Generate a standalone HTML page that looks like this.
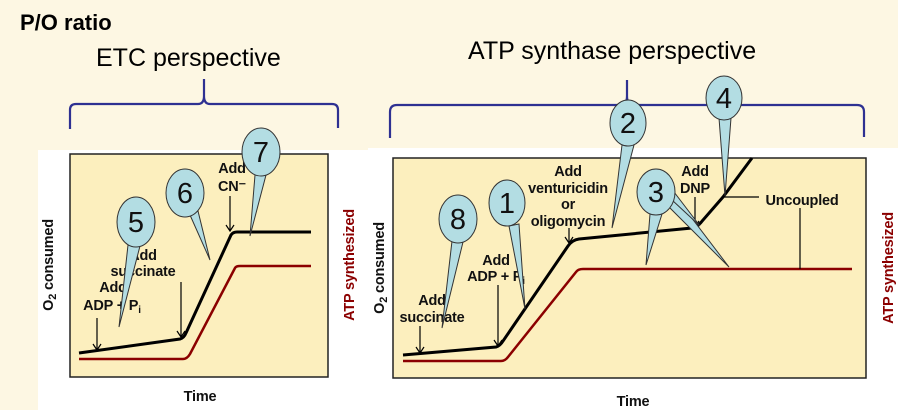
<!DOCTYPE html>
<html><head><meta charset="utf-8"><style>
body{margin:0;background:#fdf7e3;}
svg{display:block;}
text{font-family:"Liberation Sans",sans-serif;}
.lb{font-size:14.5px;font-weight:bold;fill:#111;text-anchor:middle;letter-spacing:-0.2px;}
.cn{font-size:29px;fill:#111;text-anchor:middle;}
</style></head><body>
<svg width="898" height="410" viewBox="0 0 898 410" xmlns="http://www.w3.org/2000/svg">
<rect width="898" height="410" fill="#fdf7e3"/>
<rect x="38" y="150" width="330" height="260" fill="#fff"/>
<rect x="368" y="148" width="530" height="262" fill="#fff"/>
<text x="20" y="30" font-size="22" font-weight="bold" fill="#000">P/O ratio</text>
<text x="96" y="66" font-size="25" fill="#000">ETC perspective</text>
<text x="468" y="59" font-size="25" fill="#000">ATP synthase perspective</text>
<g fill="none" stroke="#2e3192" stroke-width="2.2">
<path d="M70 129 V110 Q70 104 76 104 H198 Q204 104 204 96 V79 M204 96 Q204 104 210 104 H332 Q338 104 338 110 V128"/>
<path d="M390 138 V112 Q390 105 397 105 H620 Q627 105 627 96 V80 M627 96 Q627 105 634 105 H857 Q864 105 864 112 V137"/>
</g>
<!-- left chart -->
<rect x="70" y="154" width="258" height="223" fill="#fcefbe" stroke="#222" stroke-width="1.5"/>
<path d="M79 353 L180 339 Q184 338 186 333 L231 235 Q233 232 237 232 L311 232" fill="none" stroke="#000" stroke-width="3"/>
<path d="M79 359 L183 359 Q187 359 190 354 L235 268 Q236 266 240 266 L311 266" fill="none" stroke="#8b0000" stroke-width="2.5"/>
<g stroke="#000" stroke-width="1.2" fill="none">
<path d="M97 318 V349 M93 344 L97 350 L101 344"/>
<path d="M181 282 V336 M177 331 L181 337 L185 331"/>
<path d="M230 196 V230 M226 225 L230 231 L234 225"/>
</g>
<text class="lb" x="113" y="292">Add</text>
<text class="lb" x="112" y="310">ADP + P<tspan font-size="10" dy="3">i</tspan></text>
<text class="lb" x="143" y="260">Add</text>
<text class="lb" x="143" y="276">succinate</text>
<text class="lb" x="232" y="173">Add</text>
<text class="lb" x="232" y="191">CN⁻</text>
<text transform="translate(53 265) rotate(-90)" class="lb" font-size="16">O<tspan font-size="11" dy="3">2</tspan><tspan dy="-3"> consumed</tspan></text>
<text transform="translate(354 265) rotate(-90)" class="lb" font-size="16" style="fill:#8b0000">ATP synthesized</text>
<text class="lb" x="200" y="401" font-size="17">Time</text>
<!-- right chart -->
<rect x="393" y="158" width="473" height="220" fill="#fcefbe" stroke="#222" stroke-width="1.5"/>
<path d="M403 355 L496 347 Q500 346 503 341 L568 246 Q572 240 579 239 L692 228 Q698 227 703 220 L723 197 L752 158" fill="none" stroke="#000" stroke-width="3"/>
<path d="M403 361 L501 361 Q505 361 508 357 L576 272 Q578 269 583 269 L852 269" fill="none" stroke="#8b0000" stroke-width="2.5"/>
<g stroke="#000" stroke-width="1.2" fill="none">
<path d="M420 326 V352 M416 347 L420 353 L424 347"/>
<path d="M498 285 V345 M494 340 L498 346 L502 340"/>
<path d="M569 228 V242 M565 237 L569 243 L573 237"/>
<path d="M695 197 V226 M691 221 L695 227 L699 221"/>
<path d="M723 197 H759 M800 208 V269"/>
</g>
<text class="lb" x="432" y="305">Add</text>
<text class="lb" x="432" y="322">succinate</text>
<text class="lb" x="496" y="265">Add</text>
<text class="lb" x="496" y="281">ADP + P<tspan font-size="10" dy="3">i</tspan></text>
<text class="lb" x="568" y="176">Add</text>
<text class="lb" x="568" y="193">venturicidin</text>
<text class="lb" x="568" y="209">or</text>
<text class="lb" x="568" y="226">oligomycin</text>
<text class="lb" x="695" y="176">Add</text>
<text class="lb" x="695" y="193">DNP</text>
<text class="lb" x="802" y="205">Uncoupled</text>
<text transform="translate(384 268) rotate(-90)" class="lb" font-size="16">O<tspan font-size="11" dy="3">2</tspan><tspan dy="-3"> consumed</tspan></text>
<text transform="translate(893 268) rotate(-90)" class="lb" font-size="16" style="fill:#8b0000">ATP synthesized</text>
<text class="lb" x="633" y="406" font-size="17">Time</text>
<!-- callouts -->
<g fill="#b3dde3" stroke="#333" stroke-width="1">
<path d="M128 245 L119 327 L140 246 Z"/><ellipse cx="136" cy="222" rx="19" ry="25"/>
<path d="M190 215 L210 260 L198 211 Z"/><ellipse cx="185" cy="193" rx="19" ry="24"/>
<path d="M255 175 L250 236 L266 175 Z"/><ellipse cx="261" cy="152" rx="19" ry="24"/>
<path d="M452 241 L442 328 L463 242 Z"/><ellipse cx="458" cy="219" rx="19" ry="24"/>
<path d="M509 226 L525 309 L519 224 Z"/><ellipse cx="507" cy="203" rx="18" ry="23"/>
<path d="M622 145 L612 228 L634 145 Z"/><ellipse cx="628" cy="123" rx="18" ry="23"/>
<path d="M650 214 L646 265 L662 214 Z"/><path d="M668 206 L729 267 L675 196 Z"/><path d="M672 200 L700 226 L674 192 Z"/><ellipse cx="656" cy="192" rx="19" ry="23"/>
<path d="M719 118 L725 196 L731 118 Z"/><ellipse cx="724" cy="98" rx="18" ry="22"/>
</g>
<text class="cn" x="136" y="232">5</text>
<text class="cn" x="185" y="203">6</text>
<text class="cn" x="261" y="162">7</text>
<text class="cn" x="458" y="229">8</text>
<text class="cn" x="507" y="213">1</text>
<text class="cn" x="628" y="133">2</text>
<text class="cn" x="656" y="202">3</text>
<text class="cn" x="724" y="108">4</text>
</svg>
</body></html>
